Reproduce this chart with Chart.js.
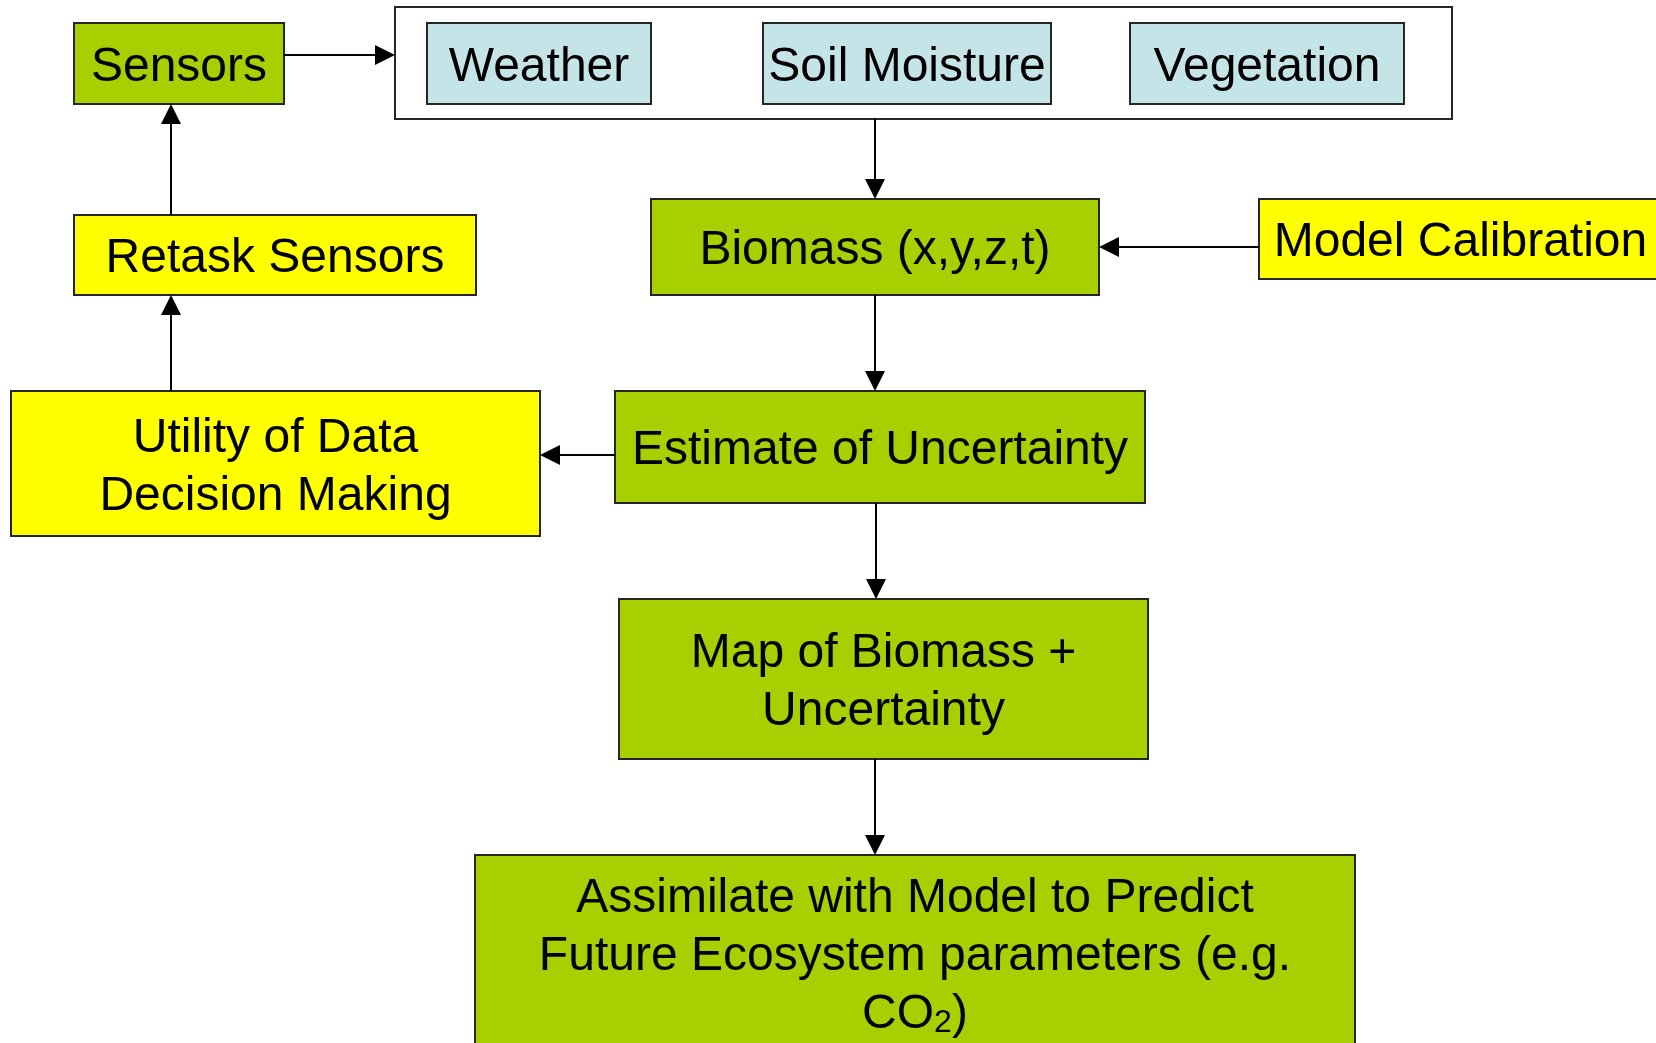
<!DOCTYPE html>
<html>
<head>
<meta charset="utf-8">
<script src="https://cdn.jsdelivr.net/npm/chart.js@4.4.0/dist/chart.umd.min.js"></script>
<style>
  html, body { margin: 0; padding: 0; background: #fff; }
  #wrap { width: 1656px; height: 1043px; }
</style>
</head>
<body>
<div id="wrap"><canvas id="flow"></canvas></div>
<script>
// nodes of the flow diagram (diagram units, y grows downward)
const nodeText = [
  ["Sensors"],
  [""],
  ["Weather"],
  ["Soil Moisture"],
  ["Vegetation"],
  ["Retask Sensors"],
  ["Biomass (x,y,z,t)"],
  ["Model Calibration"],
  ["Utility of Data", "Decision Making"],
  ["Estimate of Uncertainty"],
  ["Map of Biomass +", "Uncertainty"],
  ["Assimilate with Model to Predict", "Future Ecosystem parameters (e.g.", "CO\u2082)"]
];
const nodeKind = ["green", "frame", "blue", "blue", "blue", "yellow", "green", "yellow", "yellow", "green", "green", "green"];
const nodeLeft   = [74, 395, 427, 763, 1130, 74, 651, 1259, 11, 615, 619, 475];
const nodeRight  = [284, 1452, 651, 1051, 1404, 476, 1099, 1662, 540, 1145, 1148, 1355];
const nodeTop    = [23, 7, 23, 23, 23, 215, 199, 199, 391, 391, 599, 855];
const nodeBottom = [104, 119, 104, 104, 104, 295, 295, 279, 536, 503, 759, 1090];

// connectors: start point -> end point (arrowhead at end)
const edgeX1 = [284, 875, 1259, 875, 615, 171, 171, 876, 875];
const edgeY1 = [55, 119, 247, 295, 455, 391, 215, 503, 759];
const edgeX2 = [395, 875, 1099, 875, 540, 171, 171, 876, 875];
const edgeY2 = [55, 199, 247, 391, 455, 295, 104, 599, 855];

const fills = { green: "#a8d000", yellow: "#ffff00", blue: "#c5e4e8", frame: "#ffffff" };

const flowPlugin = {
  id: "flow",
  afterDraw(chart) {
    const ctx = chart.ctx;
    const xs = chart.scales.x, ys = chart.scales.y;
    const px = v => xs.getPixelForValue(v);
    const py = v => ys.getPixelForValue(v);
    ctx.save();

    // boxes
    nodeText.forEach((lines, i) => {
      const x0 = px(nodeLeft[i]), x1 = px(nodeRight[i]);
      const y0 = py(nodeTop[i]), y1 = py(nodeBottom[i]);
      ctx.fillStyle = fills[nodeKind[i]];
      ctx.fillRect(x0, y0, x1 - x0, y1 - y0);
      ctx.strokeStyle = "#262626";
      ctx.lineWidth = 2;
      ctx.strokeRect(x0, y0, x1 - x0, y1 - y0);
    });

    // text
    ctx.fillStyle = "#000";
    ctx.textBaseline = "middle";
    nodeText.forEach((lines, i) => {
      const cx = (px(nodeLeft[i]) + px(nodeRight[i])) / 2;
      let cy = (py(nodeTop[i]) + py(nodeBottom[i])) / 2;
      if (i === 11) cy = py(953);
      const step = 58;
      lines.forEach((ln, k) => {
        const y = cy + (k - (lines.length - 1) / 2) * step + 4;
        if (ln.includes("\u2082")) {
          // CO2 with a smaller subscript digit
          const big = "48px 'Liberation Sans', Arial, sans-serif";
          const small = "32px 'Liberation Sans', Arial, sans-serif";
          ctx.font = big; const w0 = ctx.measureText("CO").width, w2 = ctx.measureText(")").width;
          ctx.font = small; const w1 = ctx.measureText("2").width;
          let x = cx - (w0 + w1 + w2) / 2;
          ctx.textAlign = "left";
          ctx.font = big; ctx.fillText("CO", x, y); x += w0;
          ctx.font = small; ctx.fillText("2", x, y + 8); x += w1;
          ctx.font = big; ctx.fillText(")", x, y);
        } else {
          ctx.font = "48px 'Liberation Sans', Arial, sans-serif";
          ctx.textAlign = "center";
          ctx.fillText(ln, cx, y);
        }
      });
    });

    // connectors with arrowheads
    ctx.strokeStyle = "#000";
    ctx.fillStyle = "#000";
    ctx.lineWidth = 2;
    edgeX1.forEach((_, i) => {
      const ax = px(edgeX1[i]), ay = py(edgeY1[i]);
      const bx = px(edgeX2[i]), by = py(edgeY2[i]);
      const ang = Math.atan2(by - ay, bx - ax);
      const len = 20, half = 10;
      const hx = bx - len * Math.cos(ang), hy = by - len * Math.sin(ang);
      ctx.beginPath();
      ctx.moveTo(ax, ay);
      ctx.lineTo(hx, hy);
      ctx.stroke();
      ctx.beginPath();
      ctx.moveTo(bx, by);
      ctx.lineTo(hx + half * Math.sin(ang), hy - half * Math.cos(ang));
      ctx.lineTo(hx - half * Math.sin(ang), hy + half * Math.cos(ang));
      ctx.closePath();
      ctx.fill();
    });
    ctx.restore();
  }
};

new Chart(document.getElementById("flow").getContext("2d"), {
  type: "scatter",
  data: { datasets: [{ data: [], pointRadius: 0 }] },
  options: {
    responsive: true,
    maintainAspectRatio: false,
    animation: false,
    layout: { padding: 0 },
    scales: {
      x: { type: "linear", min: 0, max: 1656, display: false },
      y: { type: "linear", min: 0, max: 1043, reverse: true, display: false }
    },
    plugins: { legend: { display: false }, tooltip: { enabled: false } }
  },
  plugins: [flowPlugin]
});
</script>
</body>
</html>
